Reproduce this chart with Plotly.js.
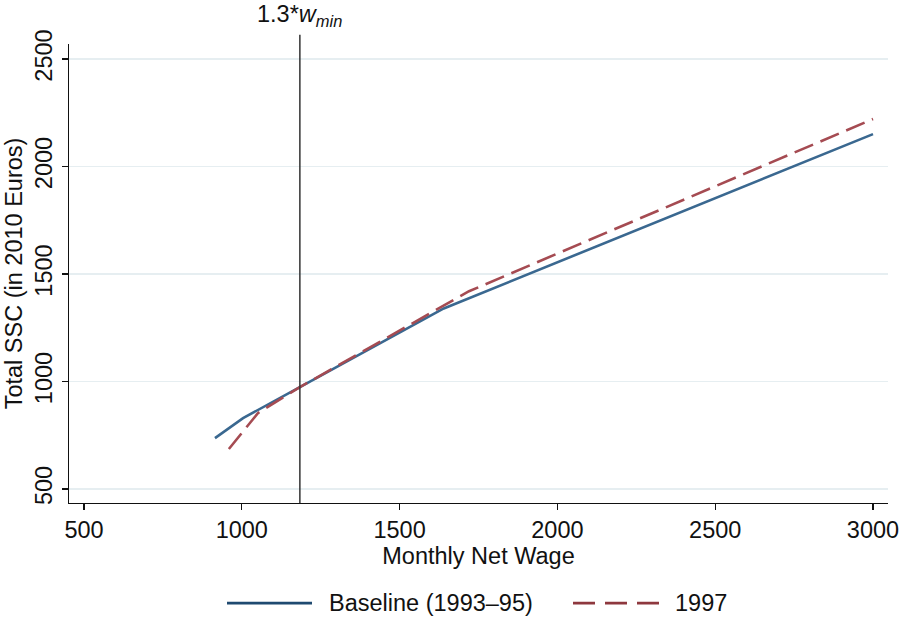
<!DOCTYPE html>
<html>
<head>
<meta charset="utf-8">
<script src="https://cdn.plot.ly/plotly-3.0.1.min.js"></script>
<style>html,body{margin:0;padding:0;background:#fff;}#chart{width:899px;height:618px;}</style>
</head>
<body>
<div id="chart"></div>
<script>
// Data
const wageBaseline = [915, 1004, 1184, 1640, 3000];
const sscBaseline  = [737, 830, 974, 1340, 2151];
const wage1997 = [959, 1051, 1184, 1720, 3000];
const ssc1997  = [686, 853, 974, 1420, 2221];
const xTicks = [500, 1000, 1500, 2000, 2500, 3000];
const yTicks = [500, 1000, 1500, 2000, 2500];
const thresholdWage = 1184; // 1.3 * w_min
const seriesNames = ["Baseline (1993\u201395)", "1997"];

const FONT = "Liberation Sans, Arial, Helvetica, sans-serif";
const FS = 23.5;
const blue = "#3a6890";
const red = "#a54b52";
const blueLeg = "#1f4a70";
const redLeg = "#8e383e";

const traces = [
  {x: wageBaseline, y: sscBaseline, type: "scatter", mode: "lines", name: seriesNames[0],
   line: {color: blue, width: 2.6}, hoverinfo: "skip", showlegend: false},
  {x: wage1997, y: ssc1997, type: "scatter", mode: "lines", name: seriesNames[1],
   line: {color: red, width: 2.6, dash: "20px,8px"}, hoverinfo: "skip", showlegend: false}
];

const legY = -0.218;
function px2paper(px) { return (px - 69) / 819; }

const layout = {
  width: 899, height: 618,
  margin: {l: 69, r: 11, t: 44, b: 115},
  paper_bgcolor: "#fff", plot_bgcolor: "#fff",
  font: {family: FONT, size: FS, color: "#111"},
  showlegend: false,
  xaxis: {
    range: [452.5, 3047.5], tickvals: xTicks, ticktext: xTicks.map(String),
    ticklabeloverflow: "allow",
    showgrid: false, zeroline: false, showline: true, linecolor: "#111", linewidth: 1.2,
    ticks: "outside", ticklen: 6, tickwidth: 1.2, tickcolor: "#111",
    tickfont: {size: FS, family: FONT, color: "#111"},
    title: {text: "Monthly Net Wage", font: {size: FS, family: FONT, color: "#111"}, standoff: 0}
  },
  yaxis: {
    range: [435, 2570], tickvals: yTicks, ticktext: yTicks.map(String),
    tickangle: -90, ticklabeloverflow: "allow",
    showgrid: true, gridcolor: "#e6eef1", gridwidth: 1.2, zeroline: false,
    showline: true, linecolor: "#111", linewidth: 1.2,
    ticks: "outside", ticklen: 6, tickwidth: 1.2, tickcolor: "#111",
    tickfont: {size: FS, family: FONT, color: "#111"},
    title: {text: "Total SSC (in 2010 Euros)", font: {size: FS, family: FONT, color: "#111"}, standoff: 2}
  },
  shapes: [
    {type: "line", xref: "x", yref: "paper", x0: thresholdWage, x1: thresholdWage, y0: 0, y1: 1.02,
     line: {color: "#333", width: 1.5}},
    {type: "line", xref: "paper", yref: "paper", x0: px2paper(227), x1: px2paper(312), y0: legY, y1: legY,
     line: {color: blueLeg, width: 2.8}},
    {type: "line", xref: "paper", yref: "paper", x0: px2paper(573), x1: px2paper(660), y0: legY, y1: legY,
     line: {color: redLeg, width: 2.8, dash: "22px,10px"}}
  ],
  annotations: [
    {xref: "x", yref: "paper", x: thresholdWage, y: 1.02, yanchor: "bottom", xanchor: "center",
     yshift: 3, text: "1.3*<i>w<sub>min</sub></i>", showarrow: false, font: {size: FS, family: FONT, color: "#111"}},
    {xref: "paper", yref: "paper", x: px2paper(327), y: legY, xanchor: "left", yanchor: "middle",
     text: seriesNames[0], showarrow: false, font: {size: FS, family: FONT, color: "#111"}},
    {xref: "paper", yref: "paper", x: px2paper(673), y: legY, xanchor: "left", yanchor: "middle",
     text: seriesNames[1], showarrow: false, font: {size: FS, family: FONT, color: "#111"}}
  ]
};

Plotly.newPlot("chart", traces, layout, {displayModeBar: false, staticPlot: true});
</script>
</body>
</html>
